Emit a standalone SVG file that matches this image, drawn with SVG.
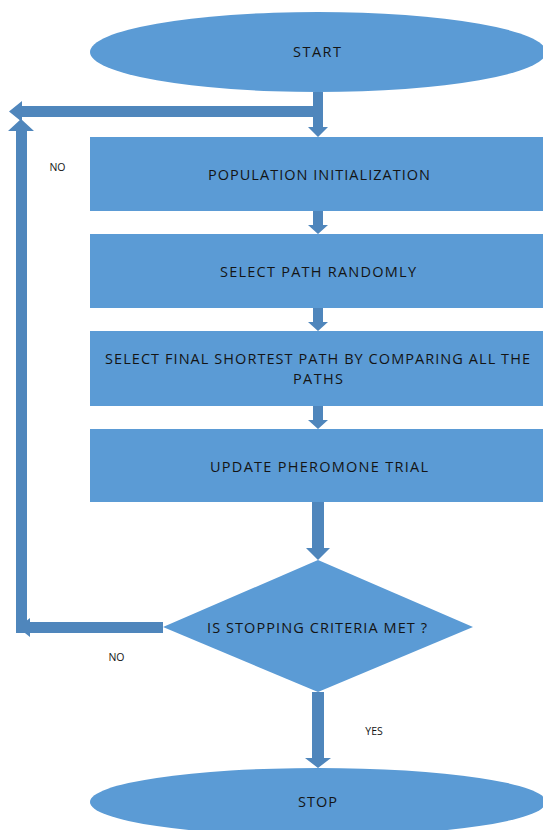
<svg xmlns="http://www.w3.org/2000/svg" width="543" height="830" viewBox="0 0 543 830">
  <style>
    .shape { fill: #5b9bd5; }
    .arrow { fill: #4f86bc; }
    .label { font-family: "Open Sans", "Liberation Sans", sans-serif; font-size: 14.5px; fill: #141414; text-anchor: middle; }
    .small { font-family: "Open Sans", "Liberation Sans", sans-serif; font-size: 10.5px; fill: #141414; text-anchor: middle; }
  </style>
  <rect width="543" height="830" fill="#ffffff"/>

  <!-- connectors: block arrows -->
  <g id="connectors">
    <!-- start to population initialization -->
    <polygon class="arrow" points="313,92 323,92 323,127 328,127 318,137 308,127 313,127"/>
    <!-- loop-back entry from the left -->
    <polygon class="arrow" points="323,106 22,106 22,101 9,111.5 22,122 22,117 323,117"/>
    <!-- box to box -->
    <polygon class="arrow" points="313,211 323,211 323,225 328,225 318,234 308,225 313,225"/>
    <polygon class="arrow" points="313,308 323,308 323,322 328,322 318,331 308,322 313,322"/>
    <polygon class="arrow" points="313,406 323,406 323,420 328,420 318,429 308,420 313,420"/>
    <!-- update to decision -->
    <polygon class="arrow" points="312,502 324,502 324,548 330,548 318,560 306,548 312,548"/>
    <!-- decision to stop (YES) -->
    <polygon class="arrow" points="312,692 324,692 324,758 331,758 318,768 305,758 312,758"/>
    <!-- decision back to the loop (NO) -->
    <polygon class="arrow" points="163,622 30,622 30,618 18,627.5 30,637 30,633 163,633"/>
    <polygon class="arrow" points="16,633 16,131 8,131 21,119 34,131 27,131 27,633"/>
  </g>

  <g id="start">
    <ellipse class="shape" cx="318" cy="52" rx="228" ry="40"/>
    <text class="label" x="317" y="56.5" textLength="48" lengthAdjust="spacing">START</text>
  </g>

  <g id="population-initialization">
    <rect class="shape" x="90" y="137" width="456" height="74"/>
    <text class="label" x="319" y="179.5" textLength="222" lengthAdjust="spacing">POPULATION INITIALIZATION</text>
  </g>

  <g id="select-path">
    <rect class="shape" x="90" y="234" width="456" height="74"/>
    <text class="label" x="318" y="276.5" textLength="196" lengthAdjust="spacing">SELECT PATH RANDOMLY</text>
  </g>

  <g id="select-shortest">
    <rect class="shape" x="90" y="331" width="456" height="75"/>
    <text class="label" x="317.5" y="364" textLength="425" lengthAdjust="spacing">SELECT FINAL SHORTEST PATH BY COMPARING ALL THE</text>
    <text class="label" x="318" y="384" textLength="50" lengthAdjust="spacing">PATHS</text>
  </g>

  <g id="update-pheromone">
    <rect class="shape" x="90" y="429" width="456" height="73"/>
    <text class="label" x="319" y="471.5" textLength="218" lengthAdjust="spacing">UPDATE PHEROMONE TRIAL</text>
  </g>

  <g id="stopping-criteria">
    <polygon class="shape" points="318,560 473,627 318,692 163,627"/>
    <text class="label" x="317" y="632.5" textLength="220" lengthAdjust="spacing">IS STOPPING CRITERIA MET ?</text>
  </g>

  <g id="stop">
    <ellipse class="shape" cx="318" cy="802" rx="228" ry="34"/>
    <text class="label" x="317.5" y="806.5" textLength="39" lengthAdjust="spacing">STOP</text>
  </g>

  <g id="edge-labels">
    <text class="small" x="57.5" y="171">NO</text>
    <text class="small" x="116.5" y="661">NO</text>
    <text class="small" x="374" y="735">YES</text>
  </g>
</svg>
